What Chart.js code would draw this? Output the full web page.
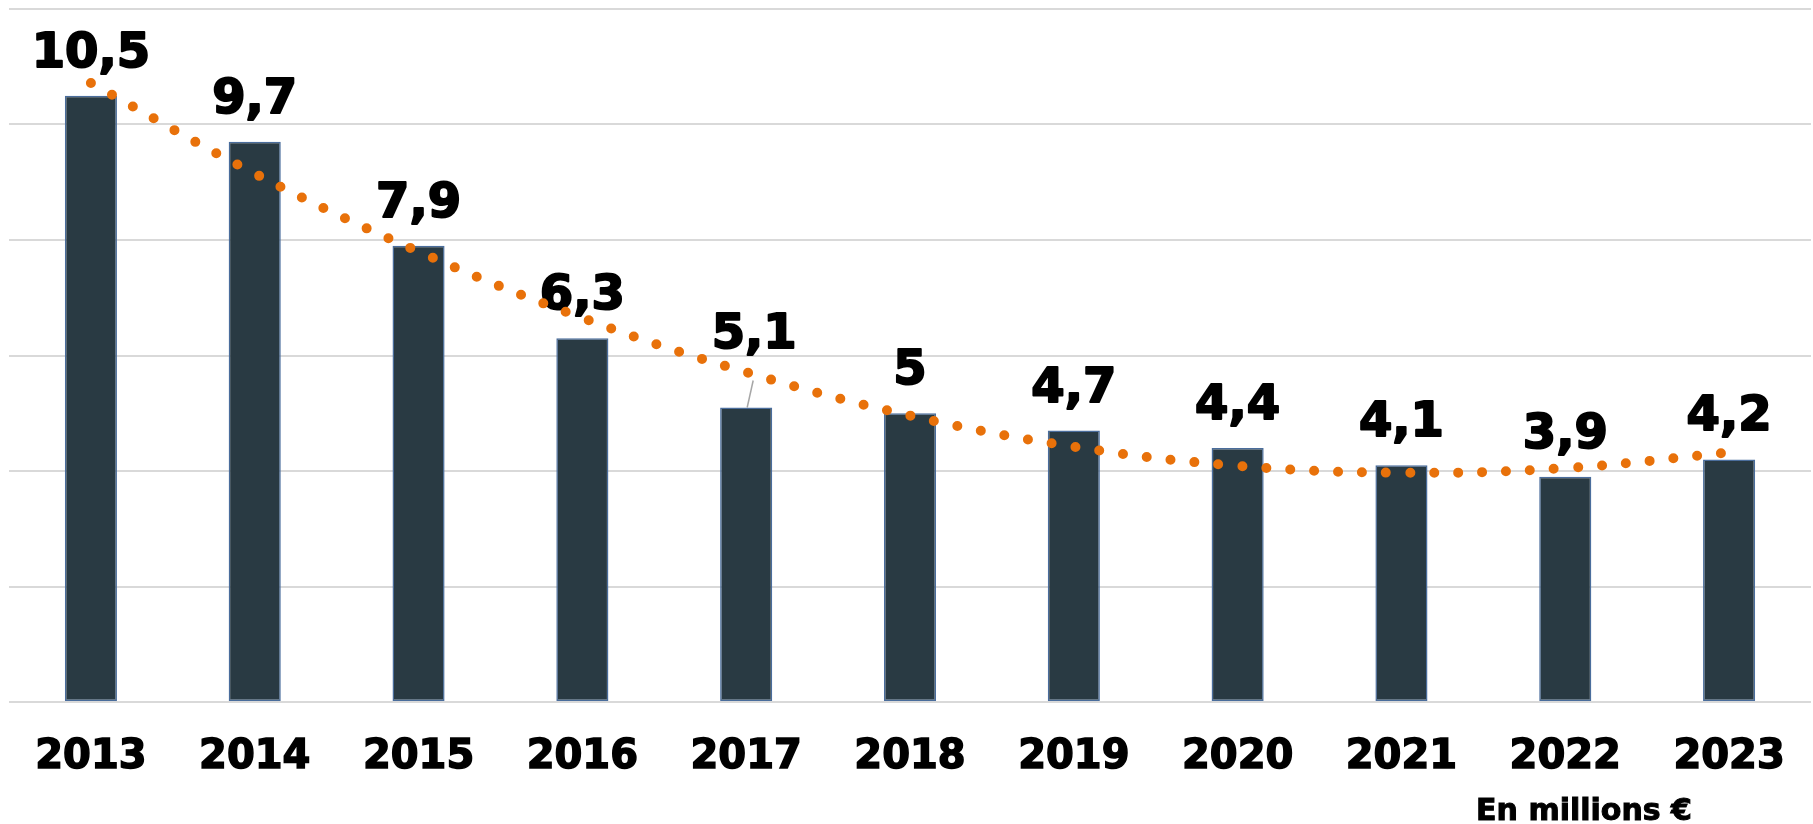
<!DOCTYPE html>
<html>
<head>
<meta charset="utf-8">
<script src="https://cdn.jsdelivr.net/npm/chart.js@4/dist/chart.umd.min.js"></script>
<style>
  html, body { margin: 0; padding: 0; background: #fff; }
  canvas { display: block; }
</style>
</head>
<body>
<canvas id="chart" width="1813" height="824"></canvas>
<script>
// categories and values
var years = ['2013', '2014', '2015', '2016', '2017', '2018', '2019', '2020', '2021', '2022', '2023'];
var amounts = [10.5, 9.7, 7.9, 6.3, 5.1, 5, 4.7, 4.4, 4.1, 3.9, 4.2];
// dotted trend curve, read at each year
var trend = [10.72, 9.15, 7.80, 6.65, 5.71, 4.96, 4.42, 4.09, 3.97, 4.05, 4.32];
var yTicks = [0, 2, 4, 6, 8, 10, 12];
var unitNote = 'En millions €';

var labelFont = 'bold 48px "DejaVu Sans"';

function fmt(v) {
  return String(v).replace('.', ',');
}

// value labels above the bars, drawn before the trend line so dots sit on top
var barLabels = {
  id: 'barLabels',
  afterDatasetDraw: function (chart, args) {
    if (args.index !== 0) return;
    var ctx = chart.ctx;
    var meta = chart.getDatasetMeta(0);
    ctx.save();
    ctx.font = labelFont;
    ctx.fillStyle = '#000';
    ctx.strokeStyle = '#000';
    ctx.lineJoin = 'round';
    ctx.textAlign = 'center';
    ctx.textBaseline = 'alphabetic';
    meta.data.forEach(function (bar, i) {
      var x = bar.x;
      var y = bar.y - 29;
      if (i === 4) {
        // this label was dragged up, with a leader line back to the bar
        x = bar.x + 8;
        y = bar.y - 59;
        ctx.save();
        ctx.strokeStyle = '#a6a6a6';
        ctx.lineWidth = 1.5;
        ctx.beginPath();
        ctx.moveTo(bar.x + 7, bar.y - 27);
        ctx.lineTo(bar.x + 1, bar.y);
        ctx.stroke();
        ctx.restore();
      }
      ctx.lineWidth = 2;
      ctx.fillText(fmt(amounts[i]), x, y);
      ctx.strokeText(fmt(amounts[i]), x, y);
    });
    ctx.restore();
  },
  afterDraw: function (chart) {
    var ctx = chart.ctx;
    ctx.save();
    ctx.font = 'bold 30px "DejaVu Sans"';
    ctx.fillStyle = '#000';
    ctx.strokeStyle = '#000';
    ctx.lineWidth = 1;
    ctx.textAlign = 'center';
    ctx.textBaseline = 'alphabetic';
    ctx.fillText(unitNote, 1584, 820);
    ctx.strokeText(unitNote, 1584, 820);
    ctx.restore();
  }
};

new Chart(document.getElementById('chart').getContext('2d'), {
  type: 'bar',
  data: {
    labels: years,
    datasets: [{
      type: 'bar',
      data: amounts,
      backgroundColor: '#293a43',
      borderColor: '#4a6d9c',
      borderWidth: 1.5,
      borderSkipped: false,
      barPercentage: 0.318,
      categoryPercentage: 1,
      order: 2
    }, {
      type: 'line',
      data: trend,
      borderColor: '#e8710a',
      borderWidth: 10,
      borderDash: [0, 24],
      borderCapStyle: 'round',
      pointRadius: 0,
      tension: 0.4,
      fill: false,
      order: 1
    }]
  },
  options: {
    responsive: false,
    devicePixelRatio: 1,
    animation: false,
    layout: {
      padding: { left: 9, right: 2, top: 9, bottom: 18 }
    },
    plugins: {
      legend: { display: false },
      tooltip: { enabled: false }
    },
    scales: {
      x: {
        grid: { display: false },
        border: { display: false },
        ticks: {
          color: '#000',
          padding: 24,
          textStrokeColor: '#000',
          textStrokeWidth: 1.5,
          font: { family: 'DejaVu Sans', size: 40, weight: 'bold' }
        }
      },
      y: {
        min: yTicks[0],
        max: yTicks[yTicks.length - 1],
        afterBuildTicks: function (scale) {
          scale.ticks = yTicks.map(function (v) { return { value: v }; });
        },
        ticks: { display: false },
        border: { display: false },
        grid: { color: '#d9d9d9', lineWidth: 2, drawTicks: false }
      }
    }
  },
  plugins: [barLabels]
});
</script>
</body>
</html>
